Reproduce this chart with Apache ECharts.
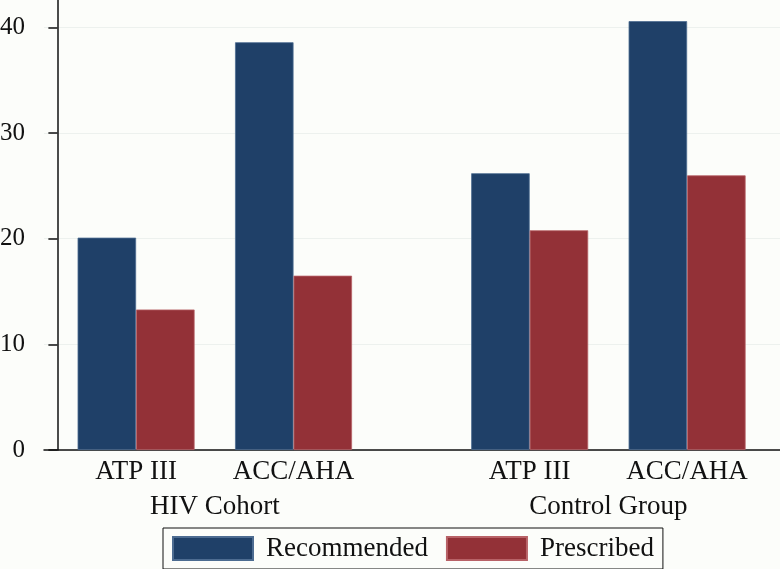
<!DOCTYPE html>
<html>
<head>
<meta charset="utf-8">
<script src="https://cdn.jsdelivr.net/npm/echarts@6/dist/echarts.min.js"></script>
<style>html,body{margin:0;padding:0;background:#fcfdfa;}#c{width:780px;height:569px;}</style>
</head>
<body>
<div id="c"></div>
<script>
// Data
const groupNames = ['HIV Cohort', 'Control Group'];
const guidelines = ['ATP III', 'ACC/AHA', 'ATP III', 'ACC/AHA'];
const slotIndex = [1, 3, 6, 8];        // slot of each guideline bar pair on the x scale
const groupSlot = [2, 7];              // slot of each group label
const recommended = [20.1, 38.6, 26.2, 40.6];
const prescribed = [13.3, 16.5, 20.8, 26.0];
const yTicks = [0, 10, 20, 30, 40];

const font = 'Liberation Serif';
const chart = echarts.init(document.getElementById('c'));
const slotLabel = {};
slotIndex.forEach((s, i) => { slotLabel[s] = guidelines[i]; });
const groupLabel = {};
groupSlot.forEach((s, i) => { groupLabel[s] = groupNames[i]; });

chart.setOption({
  backgroundColor: '#fcfdfa',
  animation: false,
  grid: { left: 44, right: 0, top: 0, bottom: 119, containLabel: false, outerBoundsMode: 'none' },
  legend: {
    left: 163, top: 528,
    itemWidth: 80, itemHeight: 23, itemGap: 18,
    padding: [7, 9],
    borderColor: '#111', borderWidth: 1,
    icon: 'rect',
    textStyle: { fontFamily: font, fontSize: 27, color: '#111', padding: [0, 0, 0, 8] },
    data: ['Recommended', 'Prescribed']
  },
  xAxis: [{
    type: 'value', min: -0.17, max: 9.18, position: 'bottom',
    axisLine: { show: true, onZero: false, lineStyle: { color: '#111', width: 1.5 } },
    axisTick: { show: false },
    splitLine: { show: false },
    axisLabel: {
      customValues: slotIndex,
      margin: 8,
      fontFamily: font, fontSize: 27, color: '#111',
      formatter: v => slotLabel[v] || ''
    }
  }, {
    type: 'value', min: -0.17, max: 9.18, position: 'bottom',
    axisLine: { show: false },
    axisTick: { show: false },
    splitLine: { show: false },
    axisLabel: {
      customValues: groupSlot,
      margin: 43,
      fontFamily: font, fontSize: 27, color: '#111',
      formatter: v => groupLabel[v] || ''
    }
  }],
  yAxis: {
    type: 'value', min: 0, max: 42.6, interval: 10,
    axisLine: { show: true, lineStyle: { color: '#111', width: 1.5 } },
    axisTick: { show: true, length: 9, lineStyle: { color: '#111', width: 1.5 }, customValues: yTicks },
    splitLine: { show: true, lineStyle: { color: '#edf1ee', width: 1 } },
    axisLabel: {
      customValues: yTicks,
      margin: 19,
      fontFamily: font, fontSize: 25, color: '#111'
    }
  },
  series: [{
    name: 'Recommended', type: 'bar', xAxisIndex: 0,
    barWidth: 58.5, barGap: '0%',
    itemStyle: { color: '#1f4068', borderColor: '#4d6c91', borderWidth: 0.8 },
    data: slotIndex.map((s, i) => [s, recommended[i]])
  }, {
    name: 'Prescribed', type: 'bar', xAxisIndex: 0,
    barWidth: 58.5, barGap: '0%',
    itemStyle: { color: '#933137', borderColor: '#b86267', borderWidth: 0.8 },
    data: slotIndex.map((s, i) => [s, prescribed[i]])
  }]
});
</script>
</body>
</html>
